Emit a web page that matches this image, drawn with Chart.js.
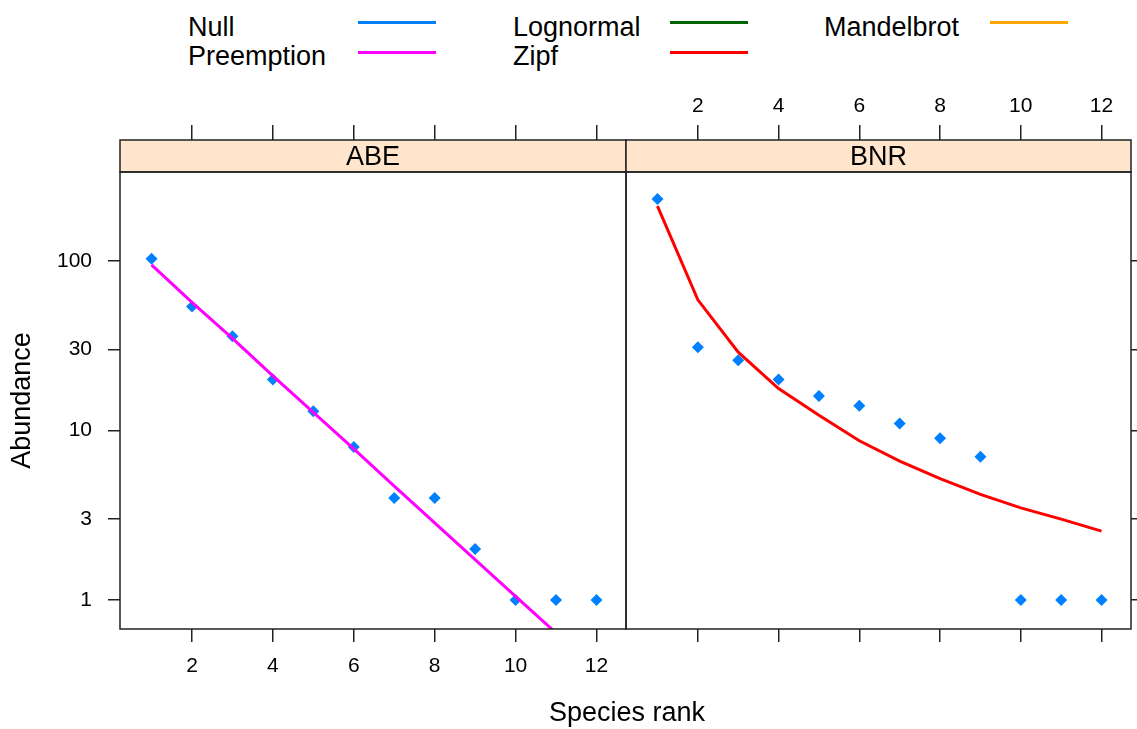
<!DOCTYPE html>
<html>
<head>
<meta charset="utf-8">
<script src="https://cdn.jsdelivr.net/npm/chart.js@4.4.1/dist/chart.umd.min.js"></script>
<style>
  html, body { margin: 0; padding: 0; background: #fff; }
  body { width: 1137px; height: 729px; position: relative; overflow: hidden;
         font-family: "Liberation Sans", Arial, sans-serif; color: #000; }
  canvas { position: absolute; left: 0; top: 0; }
  .legText { position: absolute; font-size: 27px; line-height: 29px; white-space: nowrap; }
  .legLine { position: absolute; height: 3px; width: 78px; }
  #xtitle { position: absolute; left: 527px; width: 200px; top: 698px; text-align: center;
            font-size: 27px; line-height: 29px; }
</style>
</head>
<body>
<div id="legend"></div>
<canvas id="abeChart" width="1137" height="729"></canvas>
<canvas id="bnrChart" width="1137" height="729"></canvas>
<div id="xtitle">Species rank</div>
<script>
// Data (abundance on a log axis)
const ranks = [1, 2, 3, 4, 5, 6, 7, 8, 9, 10, 11, 12];
const abeAbundance = [103, 54, 36, 20, 13, 8, 4, 4, 2, 1, 1, 1];
const abePreemption = [95, 57, 35, 21, 12.8, 7.8, 4.7, 2.85, 1.73, 1.05, 0.64, 0.39];
const bnrAbundance = [232, 31, 26, 20, 16, 14, 11, 9, 7, 1, 1, 1];
const bnrZipf = [211, 59, 29, 17.7, 12.3, 8.7, 6.6, 5.2, 4.2, 3.5, 3.0, 2.55];
const xTicks = [2, 4, 6, 8, 10, 12];
const yTicks = [1, 3, 10, 30, 100];
const legendLabels = ["Null", "Preemption", "Lognormal", "Zipf", "Mandelbrot"];
const legendColors = ["#0080ff", "#ff00ff", "#006400", "#ff0000", "#ffa500"];

const FONT = '"Liberation Sans", Arial, sans-serif';
const X_MIN = 0.22, X_MAX = 12.73;
const Y_MIN = 0.675, Y_MAX = 335;
const STRIP_TOP = 140;
const AXIS_COL = "#222";

// legend, two rows, filled column by column
const legendTextX = [188, 513, 824];
const legendLineX = [358, 670, 990];
const legendBox = document.getElementById("legend");
legendLabels.forEach((lab, i) => {
    const col = Math.floor(i / 2), row = i % 2;
    const t = document.createElement("div");
    t.className = "legText";
    t.textContent = lab;
    t.style.left = legendTextX[col] + "px";
    t.style.top = (13 + row * 29) + "px";
    legendBox.appendChild(t);
    const l = document.createElement("div");
    l.className = "legLine";
    l.style.background = legendColors[i];
    l.style.left = legendLineX[col] + "px";
    l.style.top = (21 + row * 30) + "px";
    legendBox.appendChild(l);
});

// strip on top of each panel plus the panel box
const panelFrame = {
    id: "panelFrame",
    afterDraw(chart, args, opts) {
        const {ctx, chartArea: a} = chart;
        ctx.save();
        ctx.fillStyle = "#ffe5cc";
        ctx.fillRect(a.left, STRIP_TOP, a.right - a.left, a.top - STRIP_TOP);
        ctx.strokeStyle = AXIS_COL;
        ctx.lineWidth = 1.5;
        ctx.strokeRect(a.left, STRIP_TOP, a.right - a.left, a.top - STRIP_TOP);
        ctx.strokeRect(a.left, a.top, a.right - a.left, a.bottom - a.top);
        ctx.fillStyle = "#000";
        ctx.font = "27px " + FONT;
        ctx.textAlign = "center";
        ctx.textBaseline = "middle";
        ctx.fillText(opts.label, (a.left + a.right) / 2, (STRIP_TOP + a.top) / 2 + 2);
        ctx.restore();
    }
};

function xAxis(pos, showLabels, tickLen, pad, height) {
    return {
        type: "linear", position: pos, min: X_MIN, max: X_MAX,
        afterBuildTicks: s => { s.ticks = xTicks.map(v => ({value: v})); },
        ticks: {display: showLabels, padding: pad, color: "#000", font: {family: FONT, size: 21}},
        grid: {drawOnChartArea: false, tickLength: tickLen, color: AXIS_COL, lineWidth: 1.5},
        border: {display: false},
        afterFit: s => { s.height = height; }
    };
}

function makePanel(id, label, counts, fit, fitColor, left) {
    const yAxis = {
        type: "logarithmic", position: left ? "left" : "right", min: Y_MIN, max: Y_MAX,
        afterBuildTicks: s => { s.ticks = yTicks.map(v => ({value: v})); },
        ticks: {display: left, padding: 16, color: "#000", font: {family: FONT, size: 21},
                callback: v => String(v)},
        grid: {drawOnChartArea: false, tickLength: left ? 12 : 8, color: AXIS_COL, lineWidth: 1.5},
        border: {display: false},
        title: {display: left, text: "Abundance", color: "#000",
                font: {family: FONT, size: 27}, padding: {top: 6, bottom: 0}},
        afterFit: s => { s.width = left ? 120 : 4; }
    };
    return new Chart(document.getElementById(id), {
        type: "scatter",
        data: {
            datasets: [
                {label: "fit", data: ranks.map((r, i) => ({x: r, y: fit[i]})), showLine: true,
                 borderColor: fitColor, borderWidth: 3, pointRadius: 0, fill: false, tension: 0},
                {label: label, data: ranks.map((r, i) => ({x: r, y: counts[i]})),
                 pointStyle: "rectRot", pointRadius: 6, backgroundColor: "#0080ff", borderWidth: 0}
            ]
        },
        options: {
            responsive: false, animation: false, events: [],
            layout: {padding: left ? {left: 0, right: 1137 - 626, top: 0, bottom: 0}
                                    : {left: 626, right: 0, top: 0, bottom: 0}},
            plugins: {legend: {display: false}, tooltip: {enabled: false}, panelFrame: {label: label}},
            scales: {
                x: xAxis("bottom", left, 13, 12, 100),
                x2: xAxis("top", !left, 47, 6, 172),
                y: yAxis
            }
        },
        plugins: [panelFrame]
    });
}

makePanel("abeChart", "ABE", abeAbundance, abePreemption, "#ff00ff", true);
makePanel("bnrChart", "BNR", bnrAbundance, bnrZipf, "#ff0000", false);
</script>
</body>
</html>
